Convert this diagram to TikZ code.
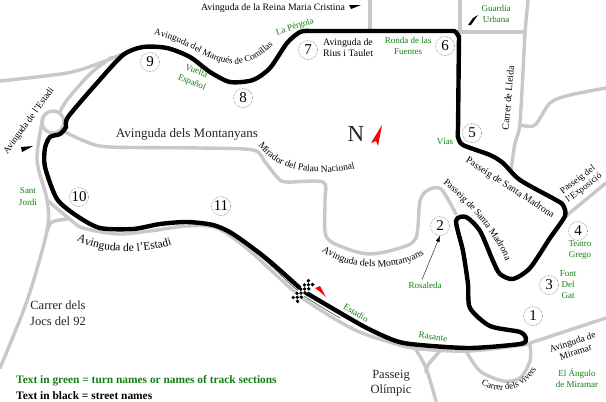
\documentclass[tikz,border=0pt]{standalone}
\usepackage{fontspec}
\setmainfont{Liberation Serif}
\usetikzlibrary{decorations.text,arrows.meta}
\definecolor{roadgrey}{RGB}{200,200,200}
\definecolor{turngreen}{RGB}{20,125,20}
\newcommand{\fsz}[1]{\fontsize{#1}{#1}\selectfont}
\tikzset{
  road/.style={draw=roadgrey,line width=3.4pt,line join=round,line cap=round},
  track/.style={draw=black,line width=4.4pt,line join=round,line cap=round},
  street/.style={font=\fsz{9.8},text=black,align=center,inner sep=0pt},
  turn/.style={font=\fsz{9},text=turngreen,align=center,inner sep=0pt},
  big/.style={font=\fsz{12.5},text=black!85,align=center,inner sep=0pt},
  num/.style={circle,draw=black!70,densely dotted,line width=.5pt,minimum size=19pt,inner sep=0pt,font=\fsz{15}},
  flagblack/.style={fill=black,draw=none},
  flagred/.style={fill=red,draw=none},
  curved/.style={decorate,decoration={text along path,text align=center,text={#1}}},
}
\begin{document}
\begin{tikzpicture}[x=1pt,y=-1pt]
\useasboundingbox (0,0) rectangle (606,402);
\fill[white] (0,0) rectangle (606,402);
% roads
\draw[road] plot[smooth,tension=.5] coordinates {(0,81) (67,73) (100,63) (122,54)};
\draw[road] plot[smooth,tension=.5] coordinates {(112,57) (90,74) (67,100) (60,112)};
\draw[road] (53,122) circle (11pt);
\draw[road] plot[smooth,tension=.5] coordinates {(65,132) (87,142) (110,147) (200,148) (253,150) (265,162) (277,177) (286,182) (323,182) (325,200) (326,236) (345,248) (370,254) (400,248) (416,238) (420,201) (428,190) (441,189) (456,214)};
\draw[road] plot[smooth,tension=.5] coordinates {(43,117) (37,160) (47,200) (47,231) (27,301) (0,368)};
\draw[road] plot[smooth,tension=.5] coordinates {(47,231) (52,222) (67,219)};
\draw[road] plot[smooth,tension=.5] coordinates {(47,200) (72,221) (83,228) (117,234) (150,231) (187,226) (217,228) (250,251) (300,296) (353,329) (396,344) (420,349) (470,351) (530,344)};
\draw[road] plot[smooth,tension=.5] coordinates {(416,350) (426,368) (436,401)};
\draw[road] plot[smooth,tension=.5] coordinates {(440,351) (428,365) (426,372)};
\draw[road] plot[smooth,tension=.5] coordinates {(466,351) (480,371) (503,381) (520,378) (530,361) (530,344)};
\draw[road] (530,343) -- (606,318);
\draw[road] (370,0) -- (370,30);
\draw[road] (460,0) -- (460,32);
\draw[road] (528,0) -- (525,32);
\draw[road] (458,32) -- (525,32);
\draw[road] plot[smooth,tension=.4] coordinates {(525,33) (520,123) (515,143) (511,170)};
\draw[road] plot[smooth,tension=.5] coordinates {(520,125) (535,125) (550,103) (570,95) (606,88)};
\draw[road] (566,216) -- (606,183);
% thin edge along the start straight
\draw[black!70,line width=.6pt] plot[smooth,tension=.5] coordinates {(213,226) (235,235) (267,262) (303,295) (340,318)};
% track
\draw[track] plot[smooth,tension=.45] coordinates {(303,291) (267,259) (233,234) (213,225) (187,222) (160,224) (133,229) (100,228) (77,216) (57,199) (45,167) (45,148) (50,137) (60,134) (66,127) (68,117) (97,83) (123,55) (143,47) (167,48) (190,57) (210,72) (230,82) (253,80) (270,68) (287,43) (300,32) (310,31)}
  -- (454,31) to[out=0,in=-90] (459,36) -- (458,130)
  plot[smooth,tension=.45] coordinates {(458,130) (458,137) (463,145) (490,155) (503,163) (520,180) (556,200) (563,205) (565,216) (550,238) (530,268) (513,279) (500,274) (493,261) (480,231) (466,217) (456,221) (463,251) (468,284) (470,308) (490,326) (520,332) (526,339) (520,344) (470,348) (420,345) (396,341) (363,326) (303,291)};
% checkered flag
\begin{scope}[shift={(303,291)},rotate=48]
\foreach \i in {0,...,8}{\foreach \j in {0,...,2}{
  \pgfmathparse{int(mod(\i+\j,2))}
  \ifnum\pgfmathresult=0 \fill[black] (-12.6+2.8*\i,-4.2+2.8*\j) rectangle ++(2.8,2.8);\else \fill[white] (-12.6+2.8*\i,-4.2+2.8*\j) rectangle ++(2.8,2.8);\fi
}}
\end{scope}
% flags and arrows
\fill[flagred] (315,288) -- (320,286) -- (326,297) -- (319,291) -- cycle;
\fill[flagblack] (21,147) -- (33,146) -- (24,151) -- (22,152) -- cycle;
\fill[flagblack] (349,5) -- (361,5) -- (351,9) -- cycle;
\fill[flagblack] (478,15) -- (471,25) -- (468,25) -- (473,18) -- cycle;
\fill[flagred] (382,125) -- (378,146) -- (376,141) -- (371,143) -- cycle;
% numbers
\node[num] (n1) at (533,316) {1};
\node[num] (n2) at (440,226) {2};
\node[num] (n3) at (549,285) {3};
\node[num] (n4) at (578,231) {4};
\node[num] (n5) at (472,133) {5};
\node[num] (n6) at (445,46) {6};
\node[num] (n7) at (308,50) {7};
\node[num] (n8) at (243,98) {8};
\node[num] (n9) at (150,62) {9};
\node[num] (n10) at (79,197) {10};
\node[num] (n11) at (221,206) {11};
% labels
\node[font=\fsz{23},text=black!85,inner sep=0pt] (north) at (356,134) {N};
\node[street] (reina) at (273,8) {Avinguda de la Reina Maria Cristina};
\node[turn,rotate=18] (pergola) at (295,27) {La Pérgola};
\node[turn,rotate=-22] (vuelta) at (194,77) {Vuelta\\[3pt]Español};
\node[font=\fsz{9.4},text=black,inner sep=0pt,rotate=54] (estadi1) at (29,121) {Avinguda de l'Estadi};
\node[turn] (sant) at (28,197) {Sant\\[3pt]Jordi};
\node[big] (jocs) at (58,313) {Carrer dels\\[3pt]Jocs del 92};
\node[font=\fsz{13},text=black!85,inner sep=0pt] (montanyans) at (187,134) {Avinguda dels Montanyans};
\node[font=\fsz{11.4},text=turngreen,inner sep=0pt,anchor=west] (legendg) at (16,381) {\textbf{Text in green = turn names or names of track sections}};
\node[font=\fsz{11.4},text=black,inner sep=0pt,anchor=west] (legendb) at (16,396) {\textbf{Text in black = street names}};
\node[street] (rius) at (348,48) {Avinguda de\\[1.2pt]Rius i Taulet};
\node[turn] (ronda) at (408,46) {Ronda de las\\[2pt]Fuentes};
\node[turn] (vias) at (445,141) {Vías};
\node[turn] (guardia) at (496,13.5) {Guardia\\[2pt]Urbana};
\node[street,rotate=85] (lleida) at (508,98) {Carrer de Lleida};
\node[street,rotate=-33] (madrona1) at (510,188) {Passeig de Santa Madrona};
\node[font=\fsz{9.2},text=black,align=center,inner sep=0pt,rotate=37] (expo) at (581,184) {Passeig del\\[1pt]l'Exposició};
\node[turn] (teatro) at (580,250) {Teatro\\[2pt]Grego};
\node[turn] (font) at (568,285) {Font\\[2pt]Del\\[2pt]Gat};
\node[turn] (rosaleda) at (425,285) {Rosaleda};
\node[turn,rotate=-30] (estadio) at (356,313) {Estadio};
\node[turn,rotate=-8] (rasante) at (433,337) {Rasante};
\node[font=\fsz{9.5},text=black,align=center,inner sep=0pt,rotate=18] (miramar) at (574,347) {Avinguda de\\[1pt]Miramar};
\node[turn] (angulo) at (577,378) {El Ángulo\\[2pt]de Miramar};
\node[big] (olimpic) at (391,383) {Passeig\\[3pt]Olímpic};
\draw[-{Latex[length=6pt,width=4pt]},line width=.4pt] (rosaleda.north) ++(-3,-2) coordinate (rosfoot) -- (n2.south);
% curved labels
\path[curved={|\fsz{9.2}|Avinguda del Marqués de Comillas}] (154,35) .. controls (200,42) and (228,90) .. (273,45);
\path[curved={|\fsz{11.5}|Avinguda de l'Estadi}] (72,238) .. controls (100,255) and (145,255) .. (177,243);
\path[curved={|\fsz{9.5}|Mirador del Palau Nacional}] (259,146) .. controls (280,175) and (320,175) .. (354,169);
\path[curved={|\fsz{9.6}|Passeig de Santa Madrona}] (443,183) .. controls (470,205) and (495,235) .. (506,261);
\path[curved={|\fsz{9.8}|Avinguda dels Montanyans}] (320,250) .. controls (350,272) and (395,272) .. (426,254);
\path[curved={|\fsz{9}|Carrer dels vivers}] (480,384) .. controls (497,395) and (525,392) .. (537,368);
\end{tikzpicture}
\end{document}
